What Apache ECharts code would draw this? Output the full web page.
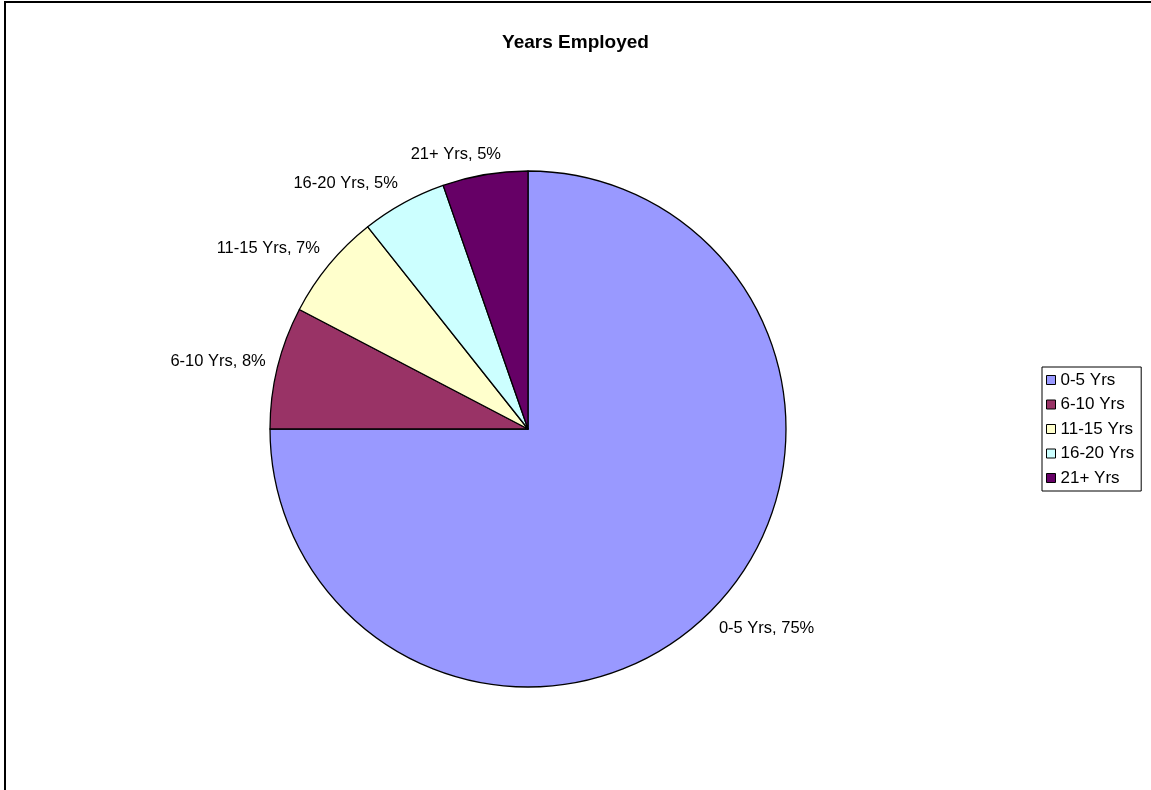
<!DOCTYPE html>
<html><head><meta charset="utf-8">
<script src="https://cdn.jsdelivr.net/npm/echarts@6/dist/echarts.min.js"></script>
<style>html,body{margin:0;padding:0;background:#fff}#c{width:1151px;height:790px}</style>
</head><body><div id="c"></div>
<script>
const categories = ['0-5 Yrs', '6-10 Yrs', '11-15 Yrs', '16-20 Yrs', '21+ Yrs'];
const values = [225, 23, 20, 16, 16];
const colors = ['#9999FF', '#993366', '#FFFFCC', '#CCFFFF', '#660066'];
const titleText = 'Years Employed';

const FONT = 'Arial, "Liberation Sans", sans-serif';
function clamp01(v) { return Math.max(0, Math.min(1, v)); }

const chart = echarts.init(document.getElementById('c'), null, { renderer: 'canvas' });
chart.setOption({
  animation: false,
  backgroundColor: '#fff',
  title: {
    text: titleText, left: 'center', top: 33, padding: 0,
    textStyle: { fontFamily: FONT, fontSize: 19, fontWeight: 'bold', color: '#000' }
  },
  legend: {
    orient: 'vertical', left: 1042, top: 367, padding: [3, 7, 3, 4],
    itemGap: 4.5, itemWidth: 9, itemHeight: 9, icon: 'rect',
    borderColor: '#000', borderWidth: 1, selectedMode: false,
    itemStyle: { borderColor: '#000', borderWidth: 1 },
    textStyle: { fontFamily: FONT, fontSize: 17, color: '#000', lineHeight: 20 },
    data: categories
  },
  graphic: [{
    type: 'rect', silent: true,
    shape: { x: 5, y: 2, width: 1300, height: 1000 },
    style: { fill: 'none', stroke: '#000', lineWidth: 2 }
  }],
  series: [{
    type: 'pie',
    center: [528, 429],
    radius: 258,
    startAngle: 90,
    clockwise: true,
    avoidLabelOverlap: false,
    emphasis: { disabled: true },
    data: categories.map((c, i) => ({ name: c, value: values[i], itemStyle: { color: colors[i] } })),
    itemStyle: { borderColor: '#000', borderWidth: 1.3 },
    label: {
      show: true, position: 'outside',
      formatter: p => p.name + ', ' + Math.round(p.percent) + '%',
      fontFamily: FONT, fontSize: 16.5, color: '#000'
    },
    labelLine: { show: true, length: 12, length2: 0, lineStyle: { opacity: 0 } },
    labelLayout: function (p) {
      const pts = p.labelLinePoints;
      if (!pts) return {};
      const P = pts[1];
      const ddx = pts[1][0] - pts[0][0], ddy = pts[1][1] - pts[0][1];
      const L = Math.hypot(ddx, ddy) || 1;
      const dx = ddx / L, dy = ddy / L;
      const w = p.labelRect.width, h = p.labelRect.height;
      const f = clamp01(0.5 - 1.8 * dx), g = clamp01(0.5 - 0.8 * dy);
      return { x: P[0] - f * w, y: P[1] - g * h, align: 'left', verticalAlign: 'top' };
    }
  }]
});
</script>
</body></html>
